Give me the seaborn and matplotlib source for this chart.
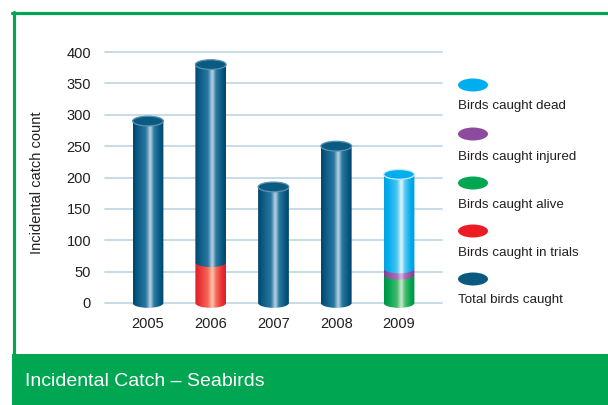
import numpy as np
import pandas as pd
import matplotlib
matplotlib.use("Agg")
import matplotlib.pyplot as plt
import seaborn as sns
from matplotlib.path import Path
from matplotlib.patches import Ellipse, PathPatch, Rectangle
from matplotlib.colors import LinearSegmentedColormap

# ---------------- data ----------------
years = ["2005", "2006", "2007", "2008", "2009"]
caught_trials = [0, 65, 0, 0, 0]
caught_alive = [0, 0, 0, 0, 45]
caught_injured = [0, 0, 0, 0, 10]
caught_dead = [0, 0, 0, 0, 150]
total_caught = [290, 380, 185, 250, 0]

series_names = ["Birds caught dead", "Birds caught injured", "Birds caught alive",
                "Birds caught in trials", "Total birds caught"]
legend_colors = ["#00aeef", "#8e4b9e", "#00a651", "#ed1c24", "#0a5a80"]

# stacking order (bottom -> top)
stack = [("Birds caught in trials", caught_trials),
         ("Birds caught alive", caught_alive),
         ("Birds caught injured", caught_injured),
         ("Birds caught dead", caught_dead)]

rows = []
for i, y in enumerate(years):
    cum = 0
    for name, vals in stack:
        if vals[i] > 0:
            rows.append(dict(year=y, series=name, bottom=cum, top=cum + vals[i]))
            cum += vals[i]
    if total_caught[i] > cum:
        rows.append(dict(year=y, series="Total birds caught", bottom=cum, top=total_caught[i]))
df = pd.DataFrame(rows)

grad_stops = {
    "Total birds caught": ["#03456a", "#0a5a84", "#2a78a0", "#bcd6e4", "#2c7aa0", "#0a5a84", "#03436a"],
    "Birds caught in trials": ["#d5232a", "#ec2f35", "#f46a58", "#fcc8b0", "#f2705a", "#ec3036", "#d22228"],
    "Birds caught alive": ["#009145", "#00a651", "#44b86c", "#cdeace", "#50bc72", "#00a651", "#008d44"],
    "Birds caught injured": ["#7b3d90", "#9151a3", "#a86fb8", "#dabae0", "#a86fb8", "#9151a3", "#783a8c"],
    "Birds caught dead": ["#0a9fdc", "#00aeef", "#4cc4f2", "#e4f6fd", "#56c7f2", "#00aeef", "#0699d6"],
}
stop_pos = [0, 0.14, 0.42, 0.56, 0.68, 0.86, 1.0]
cap_face = {"Total birds caught": ("#0b5a82", "#5a93b3"),
            "Birds caught dead": ("#00aeef", "#c8ecfb"),
            "Birds caught in trials": ("#ed1c24", "#f8a0a0"),
            "Birds caught alive": ("#00a651", "#a0dcb0"),
            "Birds caught injured": ("#8e4b9e", "#c8a0d0")}

W, H = 608, 405
fig = plt.figure(figsize=(W / 100, H / 100), dpi=100)
sns.set_style("white")
plt.rcParams["font.family"] = ["Liberation Sans", "DejaVu Sans"]

def fx(x):
    return x / W

def fy(y):
    return 1 - y / H

ax = fig.add_axes([fx(105), fy(312.4), fx(442) - fx(105), fy(48.9) - fy(312.4)])

draw_order = ["Total birds caught", "Birds caught dead", "Birds caught injured",
              "Birds caught alive", "Birds caught in trials"]
pal = dict(zip(series_names, legend_colors))
sns.barplot(data=df, x="year", y="top", hue="series", hue_order=draw_order,
            order=years, dodge=False, palette=pal, width=0.49, errorbar=None,
            legend=False, ax=ax)

ax.set_xlim(-0.685, 4.685)
ax.set_ylim(-15, 405)

EH = 15.5  # ellipse height in data units
grad = np.linspace(0, 1, 256)[np.newaxis, :]

bars = [p for p in list(ax.patches) if isinstance(p, Rectangle) and p.get_height() > 0]
segs = []
for p in bars:
    xc = p.get_x() + p.get_width() / 2
    w = p.get_width()
    top = p.get_height()
    yi = int(round(xc))
    sub = df[(df["year"] == years[yi]) & (np.isclose(df["top"], top))]
    if len(sub) == 0:
        continue
    r = sub.iloc[0]
    segs.append((xc, w, r["bottom"], r["top"], r["series"]))
    p.set_alpha(0)

# draw from bottom to top so upper segments overlap lower ones
segs.sort(key=lambda s: (s[0], s[2]))
arc = Path.arc(180, 360)
for k, (xc, w, y0, y1, name) in enumerate(segs):
    v = arc.vertices * np.array([w / 2, EH / 2]) + np.array([xc, y0])
    verts = [(xc - w / 2, y1), (xc - w / 2, y0)] + [tuple(t) for t in v[1:]] + \
            [(xc + w / 2, y1), (xc - w / 2, y1)]
    codes = [Path.MOVETO, Path.LINETO] + list(arc.codes[1:]) + [Path.LINETO, Path.CLOSEPOLY]
    pth = Path(verts, codes)
    pp = PathPatch(pth, transform=ax.transData, facecolor="none", edgecolor="none")
    cmap = LinearSegmentedColormap.from_list(name, list(zip(stop_pos, grad_stops[name])))
    im = ax.imshow(grad, extent=(xc - w / 2, xc + w / 2, y0 - EH / 2 - 1, y1),
                   aspect="auto", cmap=cmap, interpolation="bicubic",
                   zorder=3 + y0 / 1000.0, origin="lower")
    im.set_clip_path(pp)
    im.set_clip_on(True)

# caps
for xc, w, y0, y1, name in segs:
    is_top = not any((s[0] == xc and s[2] >= y1 - 1e-9 and s[3] > y1) for s in segs)
    if is_top:
        fc, ec = cap_face[name]
        ax.add_patch(Ellipse((xc, y1), w, EH, facecolor=fc, edgecolor=ec,
                             lw=0.9, zorder=10))

ax.set_xlim(-0.685, 4.685)
ax.set_ylim(-15, 405)

ax.set_yticks(np.arange(0, 401, 50))
for t in np.arange(0, 401, 50):
    ax.axhline(t, color="#c3d9e6", lw=1.3, zorder=1, clip_on=False)
ax.grid(False)
for s in ax.spines.values():
    s.set_visible(False)
ax.tick_params(axis="both", length=0, labelsize=10.5, labelcolor="#231f20")
ax.tick_params(axis="y", pad=10)
ax.tick_params(axis="x", pad=3)
ax.set_xlabel("")
ax.set_ylabel("")
ax.patch.set_alpha(0)

fig.text(fx(37), fy(183), "Incidental catch count", rotation=90, ha="center",
         va="center", fontsize=10.5, color="#231f20")

# legend
ell_y = [85, 134, 183, 231, 279]
txt_y = [106, 157, 205, 253, 300]
for name, col, ey, ty in zip(series_names, legend_colors, ell_y, txt_y):
    fig.add_artist(Ellipse((fx(473), fy(ey)), 30 / W, 13 / H, facecolor=col,
                           edgecolor="none", transform=fig.transFigure))
    fig.text(fx(458), fy(ty), name, ha="left", va="center", fontsize=9.6,
             color="#231f20")

# frame and title band
green = "#00a651"
fig.add_artist(plt.Line2D([fx(12), 1], [fy(12.5), fy(12.5)], color=green, lw=2.3,
                          transform=fig.transFigure))
fig.add_artist(plt.Line2D([fx(13.5), fx(13.5)], [fy(12), fy(356)], color=green, lw=2.3,
                          transform=fig.transFigure))
fig.add_artist(Rectangle((fx(12), 0), 1 - fx(12), fy(354), facecolor=green,
                         edgecolor="none", transform=fig.transFigure))
fig.text(fx(25), fy(381), "Incidental Catch \u2013 Seabirds", color="white",
         fontsize=14, ha="left", va="center")

fig.savefig("out.png", dpi=100)
